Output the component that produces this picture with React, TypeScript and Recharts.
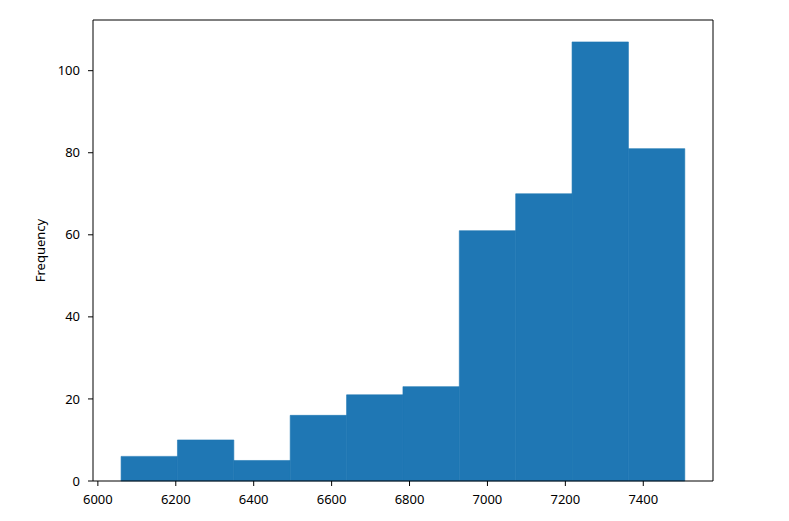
import React from 'react'
import { ComposedChart, XAxis, YAxis, ReferenceArea, ReferenceLine } from 'recharts';

// histogram bins (10 bins)
const binEdges = [6059.6, 6204.3, 6349.0, 6493.7, 6638.4, 6783.1, 6927.8, 7072.5, 7217.2, 7361.9, 7506.6];
const counts = [6, 10, 5, 16, 21, 23, 61, 70, 107, 81];
const xTicks = [6000, 6200, 6400, 6600, 6800, 7000, 7200, 7400];
const yTicks = [0, 20, 40, 60, 80, 100];

const xMin = 5987.5;
const xMax = 7579;
const yMax = 112.35;

const bins = counts.map((count, i) => ({
    lo: binEdges[i],
    hi: binEdges[i + 1],
    mid: (binEdges[i] + binEdges[i + 1]) / 2,
    count,
}));

const tickStyle = { fontFamily: 'Noto Sans', fontSize: 13, fill: '#000' };

const App: React.FC = () => {
    return (
        <div style={{ position: 'absolute', left: 0, top: 0, width: 789, height: 521, background: '#fff' }}>
            <ComposedChart width={789} height={521} data={bins} margin={{ top: 20, right: 76, bottom: 10, left: 33 }}>
                <XAxis
                    type="number"
                    dataKey="mid"
                    domain={[xMin, xMax]}
                    ticks={xTicks}
                    allowDataOverflow
                    height={30}
                    tickSize={5}
                    tickMargin={9}
                    tick={tickStyle}
                    stroke="#000"
                    tickLine={{ stroke: '#000' }}
                />
                <YAxis
                    type="number"
                    dataKey="count"
                    domain={[0, yMax]}
                    ticks={yTicks}
                    allowDataOverflow
                    width={60}
                    tickSize={5}
                    tickMargin={8}
                    tick={tickStyle}
                    stroke="#000"
                    tickLine={{ stroke: '#000' }}
                    label={{ value: 'Frequency', angle: -90, position: 'insideLeft', offset: 7, style: { textAnchor: 'middle', fontFamily: 'Noto Sans', fontSize: 13, fill: '#000' } }}
                />
                {bins.map((b, i) => (
                    <ReferenceArea key={i} x1={b.lo} x2={b.hi} y1={0} y2={b.count} fill="#1f77b4" fillOpacity={1} stroke="#1f77b4" strokeWidth={0.6} />
                ))}
                <ReferenceLine y={yMax} stroke="#000" />
                <ReferenceLine x={xMax} stroke="#000" />
            </ComposedChart>
        </div>
    )
}

export default App
